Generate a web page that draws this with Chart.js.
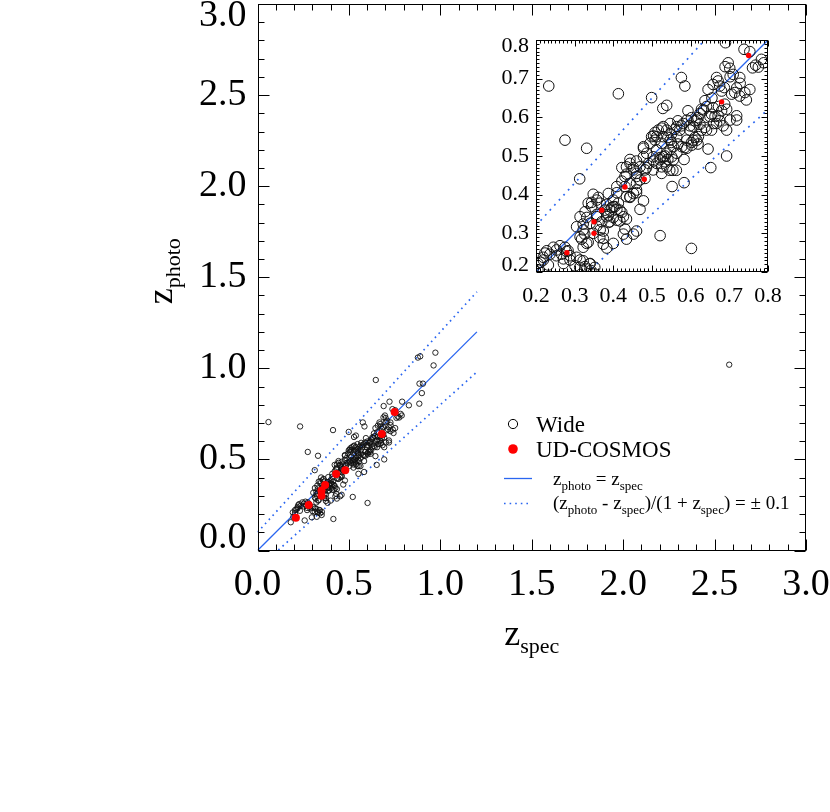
<!DOCTYPE html>
<html><head><meta charset="utf-8">
<script src="https://cdn.jsdelivr.net/npm/chart.js@4.4.0/dist/chart.umd.min.js"></script>
<style>
html,body{margin:0;padding:0;background:#fff;}
#wrap{position:relative;width:830px;height:812px;overflow:hidden;background:#fff;}
#main{position:absolute;left:0;top:0;}
#inset{position:absolute;left:480px;top:20px;}
</style></head><body>
<div id="wrap"><canvas id="main" width="830" height="812"></canvas><canvas id="inset" width="310" height="300"></canvas></div>
<script>
// ---------------- data ----------------
const wideX = [
0.06,2.58,0.973,0.877,0.890,0.963,0.886,0.905,0.899,0.885,0.828,0.791,0.722,0.647,0.182,0.196,0.193,0.205,0.223,0.258,0.297,0.324,0.342,0.351,0.415,
0.233,0.413,0.499,0.528,0.538,0.275,0.331,0.525,0.508,0.504,0.478,
0.690,0.738,0.768,0.775,0.789,0.783,0.697,0.701,0.727,0.710,0.576,0.585,0.667,0.671,0.675,0.687,0.680,0.645,0.658,0.706,0.714,0.727,0.740,0.753,0.719,0.688,0.693,0.680,0.671,0.675,0.684,0.658,0.654,0.637,0.628,0.619,0.624,0.637,0.593,0.602,0.611,0.598,0.567,0.576,0.559,0.550,0.541,0.550,0.567,0.585,0.602,0.619,0.611,0.645,
0.702,0.719,0.689,0.728,0.744,0.702,0.719,0.693,0.663,0.672,0.655,0.753,0.760,
0.313,0.245,0.262,0.275,0.283,0.266,0.253,0.236,0.219,0.228,0.288,0.271,0.305,0.322,0.339,0.352,0.313,0.331,0.301,
0.322,0.331,0.326,0.318,0.335,0.357,0.365,0.374,0.322,0.357,0.383,0.396,0.409,0.422,0.400,0.417,0.434,0.430,0.387,0.374,
0.348,0.361,0.344,0.426,0.434,0.452,0.521,0.460,0.443,0.460,0.478,0.469,0.409,0.422,0.434,0.452,0.460,0.486,0.504,0.521,0.534,0.422,0.443,
0.583,0.693,0.652,0.546,0.554,0.563,0.552,0.583,0.602,0.541,
0.434,0.443,0.452,0.460,0.469,0.482,0.491,0.503,0.512,0.525,0.529,0.538,0.547,0.555,0.564,0.572,0.581,0.590,0.598,0.607,0.616,0.624,0.633,0.641,0.650,0.659,0.620,0.607,0.590,0.564,0.547,0.529,0.512,0.495,0.486,0.478,0.469,0.460,0.521,0.538,0.512,0.529,0.547,0.555,0.538,0.525,0.478,0.499,0.516,0.508,
0.391,0.404,0.417,0.400,0.387,0.430,0.443,0.434,0.452,0.409,0.460,0.430,
0.314,0.327,0.335,0.344,0.357,0.366,0.378,0.357,0.340,0.322,0.314,0.305,0.331,0.348,0.366,0.383,0.391,0.374,0.409,0.426,
0.253,0.279,0.288,0.314,0.327,0.340,0.219,0.232,0.271,0.205,0.212,0.400,0.383,
0.400,0.413,0.387,0.370,0.443,0.460,0.482,0.503,0.525,0.534,0.551,0.564,0.577,0.590,0.603,0.616,0.628,0.641,0.654,0.667
];
const wideY = [
0.705,1.02,1.086,1.059,1.066,1.016,0.916,0.916,0.864,0.806,0.797,0.817,0.817,0.936,0.155,0.185,0.209,0.222,0.249,0.165,0.182,0.185,0.204,0.195,0.173,
0.681,0.661,0.651,0.623,0.631,0.541,0.520,0.572,0.561,0.552,0.520,
0.793,0.776,0.735,0.730,0.741,0.750,0.741,0.727,0.703,0.711,0.703,0.681,0.703,0.694,0.681,0.677,0.668,0.672,0.685,0.660,0.664,0.655,0.664,0.672,0.604,0.634,0.621,0.617,0.604,0.591,0.578,0.625,0.608,0.643,0.621,0.599,0.582,0.574,0.617,0.599,0.591,0.578,0.591,0.578,0.569,0.556,0.548,0.535,0.531,0.522,0.535,0.531,0.548,0.518,
0.705,0.676,0.731,0.688,0.645,0.593,0.593,0.567,0.602,0.628,0.650,0.770,0.728,
0.441,0.264,0.268,0.264,0.255,0.246,0.242,0.246,0.238,0.255,0.242,0.234,0.238,0.229,0.221,0.212,0.212,0.208,0.216,
0.324,0.341,0.298,0.285,0.277,0.319,0.289,0.272,0.264,0.349,0.375,0.367,0.362,0.354,0.341,0.332,0.337,0.311,0.328,0.306,
0.401,0.393,0.380,0.298,0.285,0.298,0.294,0.306,0.393,0.405,0.384,0.362,0.405,0.435,0.453,0.470,0.487,0.470,0.487,0.496,0.500,0.470,0.491,
0.491,0.500,0.470,0.463,0.463,0.463,0.421,0.431,0.261,0.491,
0.472,0.481,0.464,0.447,0.438,0.464,0.481,0.498,0.516,0.533,0.550,0.567,0.541,0.524,0.550,0.567,0.584,0.593,0.567,0.576,0.593,0.610,0.619,0.628,0.602,0.584,0.550,0.541,0.541,0.576,0.584,0.576,0.550,0.533,0.507,0.498,0.472,0.455,0.490,0.507,0.481,0.498,0.516,0.490,0.472,0.455,0.524,0.550,0.567,0.541,
0.360,0.369,0.360,0.386,0.403,0.421,0.429,0.395,0.403,0.421,0.412,0.447,
0.343,0.356,0.378,0.369,0.386,0.378,0.360,0.343,0.326,0.309,0.291,0.317,0.274,0.300,0.309,0.343,0.330,0.287,0.334,0.343,
0.257,0.253,0.231,0.231,0.214,0.222,0.231,0.218,0.222,0.205,0.225,0.274,0.262,
0.369,0.378,0.347,0.330,0.395,0.429,0.442,0.464,0.472,0.485,0.498,0.507,0.524,0.520,0.528,0.541,0.567,0.567,0.567,0.584
];
const udX = [0.21,0.28,0.35,0.35,0.37,0.43,0.48,0.68,0.75];
const udY = [0.18,0.25,0.30,0.33,0.36,0.42,0.44,0.64,0.76];
const tolerance = 0.1;                 // (zphot - zspec)/(1+zspec) = ±0.1
const mainLineX = [0, 1.2];
const insetLineX = [0.2, 0.8];
const mainTickValues = [0, 0.5, 1.0, 1.5, 2.0, 2.5, 3.0];
const insetTickValues = [0.2, 0.3, 0.4, 0.5, 0.6, 0.7, 0.8];
const legendLabels = ['Wide', 'UD-COSMOS'];

// ---------------- helpers ----------------
const FONT = "'Liberation Serif','Times New Roman',Times,serif";
const BLUE = '#2a66f0';
function pts(xs, ys){ return xs.map((x,i)=>({x:x, y:ys[i]})); }
function relLine(xs, k){ return xs.map(x=>({x:x, y:x + k*(1+x)})); }

function datasets(r){
  return [
    {label:legendLabels[1], data:pts(udX,udY), pointRadius:r.red, pointHoverRadius:r.red,
     backgroundColor:'#ff0000', borderColor:'#ff0000', borderWidth:0, order:0},
    {label:legendLabels[0], data:pts(wideX,wideY), pointRadius:r.wide, pointHoverRadius:r.wide,
     backgroundColor:'rgba(0,0,0,0)', borderColor:'#111', borderWidth:r.bw, order:1},
    {label:'eq', data:relLine(r.lx,0), showLine:true, pointRadius:0, borderColor:BLUE, borderWidth:1.3, order:2},
    {label:'up', data:relLine(r.lx,tolerance), showLine:true, pointRadius:0, borderColor:BLUE, borderWidth:1.7, borderDash:r.dash, order:2},
    {label:'lo', data:relLine(r.lx,-tolerance), showLine:true, pointRadius:0, borderColor:BLUE, borderWidth:1.7, borderDash:r.dash, order:2}
  ];
}

function framePlugin(cfg){
  return {id:'frame_'+cfg.name, afterDatasetsDraw(chart){
    const ctx = chart.ctx, a = chart.chartArea, xs = chart.scales.x, ys = chart.scales.y;
    ctx.save(); ctx.strokeStyle = '#000'; ctx.lineWidth = 1;
    const L = Math.round(a.left)+0.5, R = Math.round(a.right)-0.5, T = Math.round(a.top)+0.5, B = Math.round(a.bottom)-0.5;
    ctx.strokeRect(L, T, R-L, B-T);
    ctx.beginPath();
    const n = Math.round((cfg.max-cfg.min)/cfg.minor);
    for (let i=0;i<=n;i++){
      const v = cfg.min + i*cfg.minor;
      const len = (i % cfg.per === 0) ? cfg.majLen : cfg.minLen;
      const px = Math.round(xs.getPixelForValue(v))+0.5;
      ctx.moveTo(px,B); ctx.lineTo(px,B-len); ctx.moveTo(px,T); ctx.lineTo(px,T+len);
      const py = Math.round(ys.getPixelForValue(v))+0.5;
      ctx.moveTo(L,py); ctx.lineTo(L+len,py); ctx.moveTo(R,py); ctx.lineTo(R-len,py);
    }
    ctx.stroke(); ctx.restore();
  }};
}

function richWidth(ctx, parts){
  let w = 0; for (const p of parts){ ctx.font = p.size+'px '+FONT; w += ctx.measureText(p.t).width; } return w;
}
function drawRich(ctx, parts, x, y, align){
  let cx = align === 'center' ? x - richWidth(ctx, parts)/2 : x;
  for (const p of parts){
    ctx.font = p.size+'px '+FONT;
    ctx.fillText(p.t, cx, y + (p.dy||0));
    cx += ctx.measureText(p.t).width;
  }
}

const textPlugin = {id:'texts', afterDraw(chart){
  const ctx = chart.ctx, a = chart.chartArea;
  ctx.save(); ctx.fillStyle = '#000'; ctx.textBaseline = 'alphabetic'; ctx.textAlign = 'left';
  // axis titles
  drawRich(ctx, [{t:'z',size:36},{t:'spec',size:22,dy:8}], (a.left+a.right)/2, 645, 'center');
  ctx.save(); ctx.translate(172, (a.top+a.bottom)/2 - 6); ctx.rotate(-Math.PI/2);
  drawRich(ctx, [{t:'z',size:36},{t:'photo',size:22,dy:8}], 0, 0, 'center');
  ctx.restore();
  // legend
  ctx.strokeStyle = '#000'; ctx.lineWidth = 1;
  ctx.beginPath(); ctx.arc(513, 424, 4.6, 0, Math.PI*2); ctx.stroke();
  ctx.fillStyle = '#ff0000'; ctx.beginPath(); ctx.arc(513, 449, 4.8, 0, Math.PI*2); ctx.fill();
  ctx.fillStyle = '#000';
  ctx.font = '23px '+FONT; ctx.textBaseline = 'middle';
  ctx.fillText(legendLabels[0], 536, 426);
  ctx.fillText(legendLabels[1], 536, 451);
  ctx.textBaseline = 'alphabetic';
  ctx.strokeStyle = BLUE; ctx.lineWidth = 1.3;
  ctx.beginPath(); ctx.moveTo(504, 478.5); ctx.lineTo(532, 478.5); ctx.stroke();
  ctx.lineWidth = 1.7; ctx.setLineDash([1.6, 4]);
  ctx.beginPath(); ctx.moveTo(504, 503.5); ctx.lineTo(532, 503.5); ctx.stroke();
  ctx.setLineDash([]);
  drawRich(ctx, [{t:'z',size:19},{t:'photo',size:13,dy:5},{t:' = z',size:19},{t:'spec',size:13,dy:5}], 553, 484.5, 'left');
  drawRich(ctx, [{t:'(z',size:19},{t:'photo',size:13,dy:5},{t:' - z',size:19},{t:'spec',size:13,dy:5},
                 {t:')/(1 + z',size:19},{t:'spec',size:13,dy:5},{t:') = \u00b1 0.1',size:19}], 553, 508.5, 'left');
  ctx.restore();
}};

function axis(o){
  const endShift = o.endLH;
  return {
    type:'linear', min:o.min, max:o.max, position:o.pos,
    afterBuildTicks: s => { s.ticks = o.values.map(v=>({value:v})); },
    grid:{display:false, drawTicks:false}, border:{display:false},
    ticks:{
      autoSkip:false, maxRotation:0, minRotation:0, color:'#000', padding:o.pad,
      font: c => {
        const v = c.tick ? c.tick.value : null;
        const isEnd = o.vertical && (v !== null) && (Math.abs(v-o.min)<1e-9 || Math.abs(v-o.max)<1e-9);
        return {family:FONT, size:o.size, lineHeight: isEnd ? endShift+'px' : 1.2};
      },
      callback: v => {
        const s = Number(v).toFixed(1);
        if (o.vertical && Math.abs(v-o.max)<1e-9) return ['', s];
        if (o.vertical && Math.abs(v-o.min)<1e-9) return [s, ''];
        return s;
      }
    },
    afterFit: s => {
      if (o.vertical){ s.width = o.extent; s.paddingTop = 0; s.paddingBottom = 0; }
      else { s.height = o.extent; s.paddingLeft = 0; s.paddingRight = 0; }
    }
  };
}

Chart.defaults.font.family = FONT;

new Chart(document.getElementById('main'), {
  type:'scatter',
  data:{datasets:datasets({red:4, wide:2.7, bw:0.9, lx:mainLineX, dash:[1.6,4]})},
  options:{
    responsive:false, animation:false, devicePixelRatio:1,
    layout:{padding:{left:0, right:24, top:3, bottom:0}},
    plugins:{legend:{display:false}, tooltip:{enabled:false}},
    scales:{
      x: axis({min:0, max:3, pos:'bottom', values:mainTickValues, size:38, pad:12, vertical:false, extent:261.5}),
      y: axis({min:0, max:3, pos:'left', values:mainTickValues, size:38, pad:11, vertical:true, extent:257.5, endLH:24})
    }
  },
  plugins:[framePlugin({name:'main', min:0, max:3, minor:0.1, per:5, majLen:11, minLen:6}), textPlugin]
});

new Chart(document.getElementById('inset'), {
  type:'scatter',
  data:{datasets:datasets({red:2.7, wide:5.3, bw:1, lx:insetLineX, dash:[1.8,5]})},
  options:{
    responsive:false, animation:false, devicePixelRatio:1,
    layout:{padding:{left:0, right:22, top:20, bottom:0}},
    plugins:{legend:{display:false}, tooltip:{enabled:false}},
    scales:{
      x: axis({min:0.2, max:0.8, pos:'bottom', values:insetTickValues, size:22, pad:11, vertical:false, extent:48}),
      y: axis({min:0.2, max:0.8, pos:'left', values:insetTickValues, size:22, pad:7, vertical:true, extent:56, endLH:13})
    }
  },
  plugins:[framePlugin({name:'inset', min:0.2, max:0.8, minor:0.01, per:10, majLen:6, minLen:3})]
});
</script>
</body></html>
